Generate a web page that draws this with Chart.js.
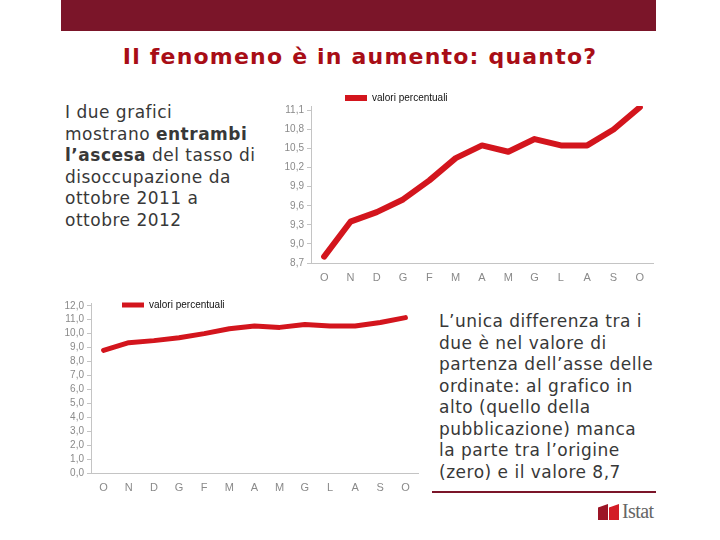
<!DOCTYPE html>
<html>
<head>
<meta charset="utf-8">
<script src="https://cdn.jsdelivr.net/npm/chart.js@4.4.0/dist/chart.umd.min.js"></script>
<style>
    body { margin: 0; background: #fff; }
    #slide { position: relative; width: 720px; height: 540px; overflow: hidden; background: #fff; }
    .bar { position: absolute; left: 61px; top: 0; width: 595px; height: 31px; background: #7b1529; }
    .title { position: absolute; left: 0; width: 720px; top: 44px; line-height: 26px; text-align: center;
        font-family: "DejaVu Sans", Verdana, sans-serif; font-weight: bold; font-size: 22px;
        letter-spacing: 1.2px; color: #a80d16; }
    .txt { position: absolute; font-family: "DejaVu Sans", Verdana, sans-serif; font-size: 17px;
        letter-spacing: 0.5px; line-height: 21.5px; color: #383838; }
    .left { left: 65px; top: 102px; width: 220px; }
    .right { left: 439px; top: 311px; width: 240px; }
    .rule { position: absolute; left: 432px; top: 491px; width: 224px; height: 2px; background: #7b1529; }
    .chart { position: absolute; }
    #c1 { left: 280px; top: 84px; width: 380px; height: 206px; }
    #c2 { left: 60px; top: 281px; width: 362px; height: 219px; }
    .logo { position: absolute; left: 598px; top: 504px; }
    .logo span.b { position: absolute; top: 0; width: 10px; height: 16px;
        clip-path: polygon(0 22%, 100% 0, 100% 100%, 0 100%); }
    .logo span.t { position: absolute; left: 24px; top: -4px; font-family: "Liberation Serif", serif;
        font-size: 20px; color: #666; letter-spacing: -0.6px; }
</style>
</head>
<body>
<div id="slide">
    <div class="bar"></div>
    <div class="title">Il fenomeno è in aumento: quanto?</div>
    <div class="txt left">I due grafici<br>mostrano <b>entrambi</b><br><b>l’ascesa</b> del tasso di<br>disoccupazione da<br>ottobre 2011 a<br>ottobre 2012</div>
    <div class="txt right">L’unica differenza tra i<br>due è nel valore di<br>partenza dell’asse delle<br>ordinate: al grafico in<br>alto (quello della<br>pubblicazione) manca<br>la parte tra l’origine<br>(zero) e il valore 8,7</div>
    <div class="rule"></div>
    <div class="chart" id="c1"><canvas id="chart1"></canvas></div>
    <div class="chart" id="c2"><canvas id="chart2"></canvas></div>
    <div class="logo">
        <span class="b" style="left:0;background:#9c1526"></span>
        <span class="b" style="left:11px;background:#d31c26"></span>
        <span class="t">Istat</span>
    </div>
</div>
<script>
// data: monthly unemployment rate, Oct 2011 -> Oct 2012
const mesi = ['O', 'N', 'D', 'G', 'F', 'M', 'A', 'M', 'G', 'L', 'A', 'S', 'O'];
const valori = [8.8, 9.35, 9.5, 9.7, 10.0, 10.35, 10.55, 10.45, 10.65, 10.55, 10.55, 10.8, 11.15];
const serieLabel = 'valori percentuali';
const ticksAlto = [8.7, 9.0, 9.3, 9.6, 9.9, 10.2, 10.5, 10.8, 11.1];
const ticksBasso = [0, 1, 2, 3, 4, 5, 6, 7, 8, 9, 10, 11, 12];

const RED = '#d3151d';
const GREY = '#8a8a8a';
const AXIS = '#c4c4c4';

// moves the legend onto the spot it has in the original slide
const legendShift = {
    id: 'legendShift',
    afterLayout(chart, args, o) {
        const lg = chart.legend;
        const dx = chart.chartArea.left + o.dx - lg.left;
        lg.left += dx; lg.right += dx;
        lg.top += o.dy; lg.bottom += o.dy;
    }
};

function makeChart(id, opts) {
    const ctx = document.getElementById(id).getContext('2d');
    return new Chart(ctx, {
        type: 'line',
        data: {
            labels: mesi,
            datasets: [{
                label: serieLabel,
                data: valori,
                borderColor: RED,
                backgroundColor: RED,
                borderWidth: opts.lineWidth,
                borderJoinStyle: 'round',
                borderCapStyle: 'round',
                pointRadius: 0,
                tension: 0
            }]
        },
        plugins: [legendShift],
        options: {
            responsive: true,
            maintainAspectRatio: false,
            animation: false,
            layout: { padding: { top: 0, right: opts.padRight, bottom: 0, left: 0 } },
            plugins: {
                tooltip: { enabled: false },
                legendShift: { dx: opts.legendDx, dy: opts.legendDy },
                legend: {
                    display: true,
                    position: 'top',
                    align: 'start',
                    fullSize: false,
                    labels: {
                        usePointStyle: true,
                        pointStyle: 'line',
                        pointStyleWidth: 22,
                        boxHeight: 6,
                        padding: 2,
                        color: '#111',
                        font: { family: "'Liberation Sans Narrow', 'Liberation Sans', sans-serif", size: 10 }
                    }
                }
            },
            scales: {
                x: {
                    offset: true,
                    grid: { display: false, drawTicks: false },
                    border: { display: true, color: AXIS },
                    ticks: {
                        color: GREY, padding: 8,
                        font: { family: "'Liberation Sans', Arial, sans-serif", size: 11 }
                    },
                    afterFit: s => { s.height = opts.xHeight; }
                },
                y: {
                    min: opts.min,
                    max: opts.max,
                    grid: { display: true, drawOnChartArea: false, tickLength: 4, color: AXIS },
                    border: { display: true, color: AXIS },
                    afterBuildTicks: s => { s.ticks = opts.ticks.map(v => ({ value: v })); },
                    ticks: {
                        autoSkip: false,
                        color: GREY, padding: 3,
                        font: { family: "'Liberation Sans Narrow', 'Liberation Sans', sans-serif", size: 10 },
                        callback: v => Number(v).toFixed(1).replace('.', ',')
                    },
                    afterFit: s => { s.width = opts.yWidth; }
                }
            }
        }
    });
}

makeChart('chart1', { lineWidth: 6, min: 8.7, max: 11.17, ticks: ticksAlto,
    yWidth: 31, xHeight: 27, padRight: 7, legendDx: 32, legendDy: 7 });
makeChart('chart2', { lineWidth: 5, min: 0, max: 12.2, ticks: ticksBasso,
    yWidth: 31, xHeight: 27, padRight: 4, legendDx: 29, legendDy: 17 });
</script>
</body>
</html>
